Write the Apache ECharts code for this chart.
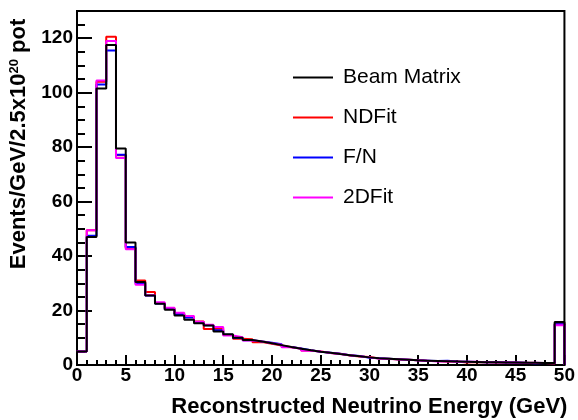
<!DOCTYPE html>
<html>
<head>
<meta charset="UTF-8">
<title>Reconstructed Neutrino Energy</title>
<script src="https://cdn.jsdelivr.net/npm/echarts@6/dist/echarts.min.js"></script>
<style>
  html, body { margin: 0; padding: 0; background: #fff; }
  #chart { width: 578px; height: 420px; }
</style>
</head>
<body>
<div id="chart"></div>
<script>
// histogram: 50 bins of 1 GeV starting at 0
var binStart = 0;
var binWidth = 1;
var seriesNames = ['Beam Matrix', 'NDFit', 'F/N', '2DFit'];
var xTicks = [0, 5, 10, 15, 20, 25, 30, 35, 40, 45, 50];
var yTicks = [0, 20, 40, 60, 80, 100, 120];

var beamMatrix = [5, 47, 101.5, 117.5, 79.5, 45, 30.5, 25.5, 22.5, 20.3,
  18.2, 16.6, 15.3, 14.5, 12.3, 11.3, 10, 9.2, 8.6, 8,
  7.3, 6.6, 6, 5.4, 4.9, 4.5, 4.0, 3.6, 3.2, 2.8,
  2.5, 2.3, 2.1, 1.9, 1.7, 1.6, 1.5, 1.4, 1.3, 1.2,
  1.1, 1.0, 1.0, 0.9, 0.9, 0.8, 0.8, 0.7, 0.7, 15.8];
var ndFit = [5, 49.5, 104, 120.5, 77, 43, 31, 26.8, 22.8, 20.8,
  18.8, 17.5, 16, 13.2, 13.4, 11, 9.6, 9.5, 8.4, 7.8,
  7.2, 6.5, 6.1, 5.3, 5, 4.4, 4.1, 3.5, 3.1, 2.9,
  2.4, 2.3, 2.0, 1.9, 1.7, 1.5, 1.5, 1.3, 1.3, 0.9,
  1.1, 1.0, 0.9, 0.9, 0.8, 0.8, 0.7, 0.7, 0.6, 15.2];
var fn = [5, 47.5, 103, 115.5, 77.2, 43.3, 30, 25.5, 22.6, 20.6,
  18.7, 17.4, 15.6, 14.6, 12.8, 11.1, 9.9, 9.1, 8.6, 8.2,
  7.6, 6.6, 6.1, 5.4, 4.9, 4.5, 4.1, 3.6, 3.3, 2.7,
  2.5, 2.3, 2.1, 1.9, 1.7, 1.6, 1.5, 1.6, 1.3, 1.2,
  1.1, 1.0, 1.1, 0.9, 0.9, 0.8, 0.6, 0.7, 0.7, 15.0];
var twoDFit = [5, 49.5, 104.5, 119, 76, 42.5, 29.5, 25.6, 23, 21,
  19.2, 18, 15.9, 14.8, 14, 10.8, 10.2, 9, 8.6, 8,
  7.4, 6.5, 6, 5.2, 5, 4.4, 4.0, 3.6, 3.2, 2.8,
  2.4, 2.2, 2.1, 1.9, 1.7, 1.6, 1.3, 1.4, 1.2, 1.2,
  1.2, 1.0, 1.0, 0.9, 0.9, 0.7, 0.8, 0.7, 0.6, 14.6];

// outline of a histogram as step points: [low edge, content], closed down to 0
function histPoints(vals) {
  var pts = [[binStart, 0]];
  for (var i = 0; i < vals.length; i++) {
    pts.push([binStart + i * binWidth, vals[i]]);
  }
  var end = binStart + vals.length * binWidth;
  pts.push([end, vals[vals.length - 1]]);
  pts.push([end, 0]);
  return pts;
}

function histSeries(name, vals, color, z) {
  return {
    name: name,
    type: 'line',
    step: 'end',
    data: histPoints(vals),
    showSymbol: false,
    symbol: 'none',
    z: z,
    lineStyle: { color: color, width: 2 },
    itemStyle: { color: color }
  };
}

var chart = echarts.init(document.getElementById('chart'));
var font = 'Liberation Sans, Arial, Helvetica, sans-serif';

var option = {
  animation: false,
  backgroundColor: '#fff',
  grid: {
    left: 77, right: 7, top: 11, bottom: 55,
    show: true, borderColor: '#000', borderWidth: 2, backgroundColor: 'transparent'
  },
  legend: {
    orient: 'vertical',
    left: 293,
    top: 67,
    padding: 0,
    itemWidth: 40,
    itemHeight: 2,
    itemGap: 19,
    icon: 'rect',
    data: seriesNames,
    textStyle: { fontFamily: font, fontSize: 21, color: '#000', lineHeight: 21, padding: [0, 0, 0, 5] }
  },
  xAxis: {
    type: 'value',
    min: xTicks[0],
    max: xTicks[xTicks.length - 1],
    interval: xTicks[1] - xTicks[0],
    name: 'Reconstructed Neutrino Energy (GeV)',
    nameLocation: 'end',
    nameGap: 0,
    nameTextStyle: {
      fontFamily: font, fontSize: 22, fontWeight: 'bold', color: '#000',
      align: 'right', verticalAlign: 'top', padding: [31, -3, 0, 0]
    },
    axisLine: { show: true, lineStyle: { color: '#000', width: 2 } },
    axisTick: { show: true, inside: true, length: 10, lineStyle: { color: '#000', width: 2 } },
    minorTick: { show: true, splitNumber: 5, length: 5, lineStyle: { color: '#000', width: 2 } },
    splitLine: { show: false },
    axisLabel: { fontFamily: font, fontSize: 19, fontWeight: 'bold', color: '#000', margin: 1 }
  },
  yAxis: {
    type: 'value',
    min: yTicks[0],
    max: 130,
    interval: yTicks[1] - yTicks[0],
    name: 'Events/GeV/2.5x10{sup|20} pot',
    nameLocation: 'middle',
    nameRotate: 90,
    nameGap: 45,
    nameTextStyle: {
      fontFamily: font, fontSize: 22, fontWeight: 'bold', color: '#000',
      padding: [0, 0, 0, 88],
      rich: {
        sup: { fontFamily: font, fontSize: 13, fontWeight: 'bold', color: '#000', verticalAlign: 'top', lineHeight: 12 }
      }
    },
    axisLine: { show: true, lineStyle: { color: '#000', width: 2 } },
    axisTick: { show: true, inside: true, length: 15, lineStyle: { color: '#000', width: 2 } },
    minorTick: { show: true, splitNumber: 4, length: 8, lineStyle: { color: '#000', width: 2 } },
    splitLine: { show: false },
    axisLabel: {
      fontFamily: font, fontSize: 19, fontWeight: 'bold', color: '#000', margin: 4,
      showMaxLabel: false,
      formatter: function (v) { return yTicks.indexOf(v) >= 0 ? String(v) : ''; }
    }
  },
  series: [
    histSeries('NDFit', ndFit, '#ff0000', 2),
    histSeries('F/N', fn, '#0000ff', 3),
    histSeries('2DFit', twoDFit, '#ff00ff', 4),
    histSeries('Beam Matrix', beamMatrix, '#000000', 5)
  ]
};

chart.setOption(option);
</script>
</body>
</html>
